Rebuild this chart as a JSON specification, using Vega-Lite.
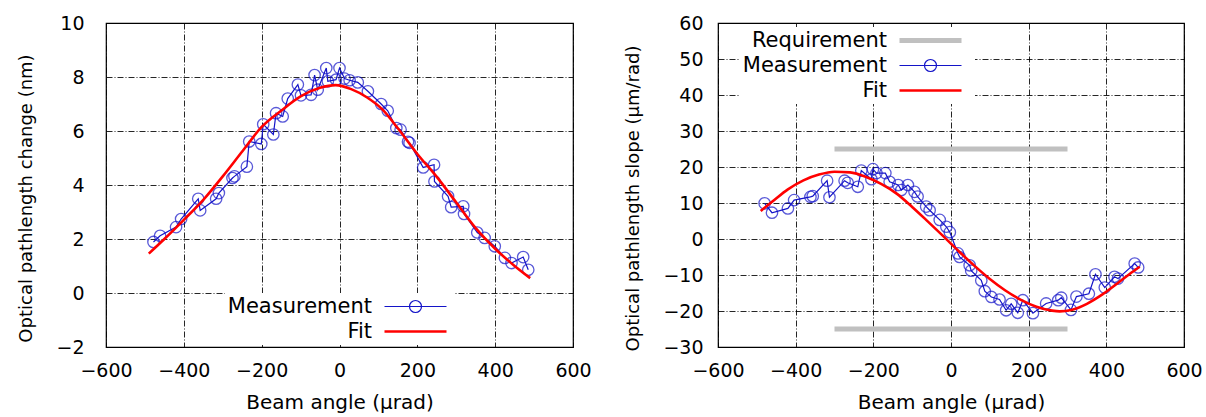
{
  "$schema": "https://vega.github.io/schema/vega-lite/v6.json",
  "padding": {"left": 17, "top": 13, "right": 0, "bottom": 0},
  "spacing": 145,
  "bounds": "flush",
  "config": {
    "font": "DejaVu Sans",
    "view": {"stroke": "#000", "strokeWidth": 1.2},
    "axis": {
      "labelFont": "DejaVu Sans", "labelFontSize": 19, "labelColor": "#000", "labelOverlap": false, "labelFlush": false,
      "titleFont": "DejaVu Sans", "titleFontSize": 19, "titleFontWeight": "normal", "titleColor": "#000",
      "domain": false, "ticks": false,
      "gridColor": "#000", "gridOpacity": 0.85, "gridDash": [6, 2, 1, 2], "gridWidth": 1
    },
    "axisX": {"labelPadding": 14, "titlePadding": 12, "titleFontSize": 20},
    "axisY": {"titleFontSize": 18, "titlePadding": 20},
    "legend": {
      "orient": "none", "title": null, "labelAlign": "right", "labelFont": "DejaVu Sans", "labelFontSize": 21,
      "labelColor": "#000", "symbolSize": 400, "rowPadding": 3, "padding": 3, "fillColor": "white", "labelLimit": 300,
      "symbolStrokeWidth": 1.2, "symbolOffset": 177, "labelOffset": -54
    }
  },
  "datasets": {
    "leftMeas": [
      {"angle": -478, "value": 1.89, "series": "Measurement"},
      {"angle": -461, "value": 2.12, "series": "Measurement"},
      {"angle": -420, "value": 2.44, "series": "Measurement"},
      {"angle": -407, "value": 2.74, "series": "Measurement"},
      {"angle": -363, "value": 3.49, "series": "Measurement"},
      {"angle": -358, "value": 3.06, "series": "Measurement"},
      {"angle": -317, "value": 3.49, "series": "Measurement"},
      {"angle": -310, "value": 3.70, "series": "Measurement"},
      {"angle": -275, "value": 4.26, "series": "Measurement"},
      {"angle": -270, "value": 4.32, "series": "Measurement"},
      {"angle": -238, "value": 4.68, "series": "Measurement"},
      {"angle": -232, "value": 5.61, "series": "Measurement"},
      {"angle": -201, "value": 5.52, "series": "Measurement"},
      {"angle": -196, "value": 6.25, "series": "Measurement"},
      {"angle": -170, "value": 5.87, "series": "Measurement"},
      {"angle": -163, "value": 6.66, "series": "Measurement"},
      {"angle": -146, "value": 6.54, "series": "Measurement"},
      {"angle": -133, "value": 7.20, "series": "Measurement"},
      {"angle": -107, "value": 7.72, "series": "Measurement"},
      {"angle": -99, "value": 7.32, "series": "Measurement"},
      {"angle": -73, "value": 7.34, "series": "Measurement"},
      {"angle": -64, "value": 8.07, "series": "Measurement"},
      {"angle": -56, "value": 7.53, "series": "Measurement"},
      {"angle": -34, "value": 8.33, "series": "Measurement"},
      {"angle": -30, "value": 7.84, "series": "Measurement"},
      {"angle": -9, "value": 7.90, "series": "Measurement"},
      {"angle": 0, "value": 8.33, "series": "Measurement"},
      {"angle": 13, "value": 7.94, "series": "Measurement"},
      {"angle": 26, "value": 7.88, "series": "Measurement"},
      {"angle": 47, "value": 7.80, "series": "Measurement"},
      {"angle": 73, "value": 7.47, "series": "Measurement"},
      {"angle": 107, "value": 7.00, "series": "Measurement"},
      {"angle": 124, "value": 6.75, "series": "Measurement"},
      {"angle": 146, "value": 6.11, "series": "Measurement"},
      {"angle": 157, "value": 6.05, "series": "Measurement"},
      {"angle": 176, "value": 5.60, "series": "Measurement"},
      {"angle": 180, "value": 5.56, "series": "Measurement"},
      {"angle": 215, "value": 4.65, "series": "Measurement"},
      {"angle": 243, "value": 4.75, "series": "Measurement"},
      {"angle": 244, "value": 4.13, "series": "Measurement"},
      {"angle": 279, "value": 3.58, "series": "Measurement"},
      {"angle": 287, "value": 3.18, "series": "Measurement"},
      {"angle": 318, "value": 3.21, "series": "Measurement"},
      {"angle": 320, "value": 2.93, "series": "Measurement"},
      {"angle": 354, "value": 2.24, "series": "Measurement"},
      {"angle": 373, "value": 2.04, "series": "Measurement"},
      {"angle": 399, "value": 1.73, "series": "Measurement"},
      {"angle": 425, "value": 1.30, "series": "Measurement"},
      {"angle": 442, "value": 1.11, "series": "Measurement"},
      {"angle": 472, "value": 1.33, "series": "Measurement"},
      {"angle": 485, "value": 0.86, "series": "Measurement"}
    ],
    "leftFit": [
      {"angle": -490, "value": 1.46, "series": "Fit"},
      {"angle": -450, "value": 2.0, "series": "Fit"},
      {"angle": -400, "value": 2.71, "series": "Fit"},
      {"angle": -350, "value": 3.45, "series": "Fit"},
      {"angle": -300, "value": 4.32, "series": "Fit"},
      {"angle": -250, "value": 5.24, "series": "Fit"},
      {"angle": -200, "value": 6.15, "series": "Fit"},
      {"angle": -150, "value": 6.75, "series": "Fit"},
      {"angle": -100, "value": 7.28, "series": "Fit"},
      {"angle": -50, "value": 7.6, "series": "Fit"},
      {"angle": -10, "value": 7.7, "series": "Fit"},
      {"angle": 30, "value": 7.55, "series": "Fit"},
      {"angle": 70, "value": 7.25, "series": "Fit"},
      {"angle": 110, "value": 6.8, "series": "Fit"},
      {"angle": 150, "value": 6.1, "series": "Fit"},
      {"angle": 200, "value": 5.15, "series": "Fit"},
      {"angle": 250, "value": 4.3, "series": "Fit"},
      {"angle": 300, "value": 3.35, "series": "Fit"},
      {"angle": 350, "value": 2.4, "series": "Fit"},
      {"angle": 400, "value": 1.64, "series": "Fit"},
      {"angle": 450, "value": 1.0, "series": "Fit"},
      {"angle": 490, "value": 0.55, "series": "Fit"}
    ],
    "requirement": [
      {"angle": -300, "value": 25, "series": "Requirement", "band": "upper"},
      {"angle": 300, "value": 25, "series": "Requirement", "band": "upper"},
      {"angle": -300, "value": -25, "series": "Requirement", "band": "lower"},
      {"angle": 300, "value": -25, "series": "Requirement", "band": "lower"}
    ],
    "rightMeas": [
      {"angle": -480, "value": 9.9, "series": "Measurement"},
      {"angle": -461, "value": 7.3, "series": "Measurement"},
      {"angle": -420, "value": 8.5, "series": "Measurement"},
      {"angle": -404, "value": 10.8, "series": "Measurement"},
      {"angle": -362, "value": 11.7, "series": "Measurement"},
      {"angle": -356, "value": 11.9, "series": "Measurement"},
      {"angle": -319, "value": 16.2, "series": "Measurement"},
      {"angle": -313, "value": 11.6, "series": "Measurement"},
      {"angle": -274, "value": 16.2, "series": "Measurement"},
      {"angle": -266, "value": 15.6, "series": "Measurement"},
      {"angle": -240, "value": 14.5, "series": "Measurement"},
      {"angle": -231, "value": 19.0, "series": "Measurement"},
      {"angle": -205, "value": 16.6, "series": "Measurement"},
      {"angle": -201, "value": 19.4, "series": "Measurement"},
      {"angle": -192, "value": 18.3, "series": "Measurement"},
      {"angle": -169, "value": 18.3, "series": "Measurement"},
      {"angle": -158, "value": 15.9, "series": "Measurement"},
      {"angle": -136, "value": 15.0, "series": "Measurement"},
      {"angle": -128, "value": 13.6, "series": "Measurement"},
      {"angle": -111, "value": 15.0, "series": "Measurement"},
      {"angle": -94, "value": 13.1, "series": "Measurement"},
      {"angle": -86, "value": 11.8, "series": "Measurement"},
      {"angle": -64, "value": 9.0, "series": "Measurement"},
      {"angle": -55, "value": 8.0, "series": "Measurement"},
      {"angle": -29, "value": 5.3, "series": "Measurement"},
      {"angle": -12, "value": 3.4, "series": "Measurement"},
      {"angle": -3, "value": 1.9, "series": "Measurement"},
      {"angle": 18, "value": -4.0, "series": "Measurement"},
      {"angle": 22, "value": -5.0, "series": "Measurement"},
      {"angle": 48, "value": -7.3, "series": "Measurement"},
      {"angle": 52, "value": -8.8, "series": "Measurement"},
      {"angle": 78, "value": -11.5, "series": "Measurement"},
      {"angle": 87, "value": -14.5, "series": "Measurement"},
      {"angle": 104, "value": -16.1, "series": "Measurement"},
      {"angle": 125, "value": -16.8, "series": "Measurement"},
      {"angle": 142, "value": -19.8, "series": "Measurement"},
      {"angle": 155, "value": -18.0, "series": "Measurement"},
      {"angle": 172, "value": -20.5, "series": "Measurement"},
      {"angle": 185, "value": -17.0, "series": "Measurement"},
      {"angle": 211, "value": -20.6, "series": "Measurement"},
      {"angle": 245, "value": -17.9, "series": "Measurement"},
      {"angle": 276, "value": -17.0, "series": "Measurement"},
      {"angle": 284, "value": -16.3, "series": "Measurement"},
      {"angle": 309, "value": -19.7, "series": "Measurement"},
      {"angle": 323, "value": -16.0, "series": "Measurement"},
      {"angle": 355, "value": -15.2, "series": "Measurement"},
      {"angle": 372, "value": -9.8, "series": "Measurement"},
      {"angle": 396, "value": -13.5, "series": "Measurement"},
      {"angle": 421, "value": -10.5, "series": "Measurement"},
      {"angle": 430, "value": -11.0, "series": "Measurement"},
      {"angle": 473, "value": -6.8, "series": "Measurement"},
      {"angle": 482, "value": -7.9, "series": "Measurement"}
    ],
    "rightFit": [
      {"angle": -490, "value": 7.8, "series": "Fit"},
      {"angle": -460, "value": 10.4, "series": "Fit"},
      {"angle": -420, "value": 13.8, "series": "Fit"},
      {"angle": -380, "value": 16.3, "series": "Fit"},
      {"angle": -340, "value": 17.9, "series": "Fit"},
      {"angle": -300, "value": 18.7, "series": "Fit"},
      {"angle": -260, "value": 18.5, "series": "Fit"},
      {"angle": -220, "value": 17.3, "series": "Fit"},
      {"angle": -180, "value": 15.3, "series": "Fit"},
      {"angle": -140, "value": 12.6, "series": "Fit"},
      {"angle": -100, "value": 8.9, "series": "Fit"},
      {"angle": -60, "value": 4.9, "series": "Fit"},
      {"angle": -20, "value": 0.8, "series": "Fit"},
      {"angle": 20, "value": -3.4, "series": "Fit"},
      {"angle": 60, "value": -7.4, "series": "Fit"},
      {"angle": 100, "value": -11.1, "series": "Fit"},
      {"angle": 140, "value": -14.3, "series": "Fit"},
      {"angle": 180, "value": -16.9, "series": "Fit"},
      {"angle": 220, "value": -18.8, "series": "Fit"},
      {"angle": 260, "value": -19.9, "series": "Fit"},
      {"angle": 280, "value": -20.1, "series": "Fit"},
      {"angle": 310, "value": -19.7, "series": "Fit"},
      {"angle": 350, "value": -18.0, "series": "Fit"},
      {"angle": 390, "value": -15.4, "series": "Fit"},
      {"angle": 430, "value": -12.2, "series": "Fit"},
      {"angle": 460, "value": -9.7, "series": "Fit"},
      {"angle": 486, "value": -7.7, "series": "Fit"}
    ]
  },
  "resolve": {
    "scale": {"x": "independent", "y": "independent", "color": "independent"},
    "legend": {"color": "independent"}
  },
  "hconcat": [
    {
      "width": 467,
      "height": 324,
      "encoding": {
        "x": {"field": "angle", "type": "quantitative",
          "scale": {"domain": [-600, 600], "nice": false},
          "axis": {"title": "Beam angle (µrad)", "values": [-600, -400, -200, 0, 200, 400, 600]}},
        "y": {"field": "value", "type": "quantitative",
          "scale": {"domain": [-2, 10], "nice": false, "zero": false},
          "axis": {"title": "Optical pathlength change (nm)", "values": [-2, 0, 2, 4, 6, 8, 10],
            "labelPadding": 22, "titleY": 175}},
        "color": {"field": "series", "type": "nominal",
          "scale": {"domain": ["Measurement", "Fit"], "range": ["#1414c8", "#ff0000"]},
          "legend": {
            "legendX": 119, "legendY": 270,
            "encode": {"symbols": {"update": {
              "shape": {"signal": "datum.value === 'Measurement' ? 'M-3.1,0H3.1M-0.6,0A0.6,0.6,0,1,1,0.6,0A0.6,0.6,0,1,1,-0.6,0' : 'M-3.1,0H3.1'"},
              "strokeWidth": {"signal": "datum.value === 'Requirement' ? 5 : datum.value === 'Fit' ? 2.6 : 1.2"},
              "fill": {"value": "transparent"}
            }}}
          }}
      },
      "layer": [
        {"data": {"name": "leftMeas"}, "mark": {"type": "line", "strokeWidth": 1.2}},
        {"data": {"name": "leftMeas"}, "mark": {"type": "point", "shape": "circle", "filled": false, "size": 130, "strokeWidth": 1.3}},
        {"data": {"name": "leftFit"}, "mark": {"type": "line", "strokeWidth": 2.6, "interpolate": "monotone"}}
      ]
    },
    {
      "width": 466,
      "height": 324,
      "encoding": {
        "x": {"field": "angle", "type": "quantitative",
          "scale": {"domain": [-600, 600], "nice": false},
          "axis": {"title": "Beam angle (µrad)", "values": [-600, -400, -200, 0, 200, 400, 600]}},
        "y": {"field": "value", "type": "quantitative",
          "scale": {"domain": [-30, 60], "nice": false, "zero": false},
          "axis": {"title": "Optical pathlength slope (µm/rad)", "values": [-30, -20, -10, 0, 10, 20, 30, 40, 50, 60],
            "labelPadding": 15, "titleY": 175}},
        "color": {"field": "series", "type": "nominal",
          "scale": {"domain": ["Requirement", "Measurement", "Fit"], "range": ["#c0c0c0", "#1414c8", "#ff0000"]},
          "legend": {
            "legendX": 22, "legendY": 4,
            "encode": {"symbols": {"update": {
              "shape": {"signal": "datum.value === 'Measurement' ? 'M-3.1,0H3.1M-0.6,0A0.6,0.6,0,1,1,0.6,0A0.6,0.6,0,1,1,-0.6,0' : 'M-3.1,0H3.1'"},
              "strokeWidth": {"signal": "datum.value === 'Requirement' ? 5 : datum.value === 'Fit' ? 2.6 : 1.2"},
              "fill": {"value": "transparent"}
            }}}
          }}
      },
      "layer": [
        {"data": {"name": "requirement"}, "mark": {"type": "line", "strokeWidth": 5}, "encoding": {"detail": {"field": "band"}}},
        {"data": {"name": "rightMeas"}, "mark": {"type": "line", "strokeWidth": 1.2}},
        {"data": {"name": "rightMeas"}, "mark": {"type": "point", "shape": "circle", "filled": false, "size": 130, "strokeWidth": 1.3}},
        {"data": {"name": "rightFit"}, "mark": {"type": "line", "strokeWidth": 2.6, "interpolate": "monotone"}}
      ]
    }
  ]
}
